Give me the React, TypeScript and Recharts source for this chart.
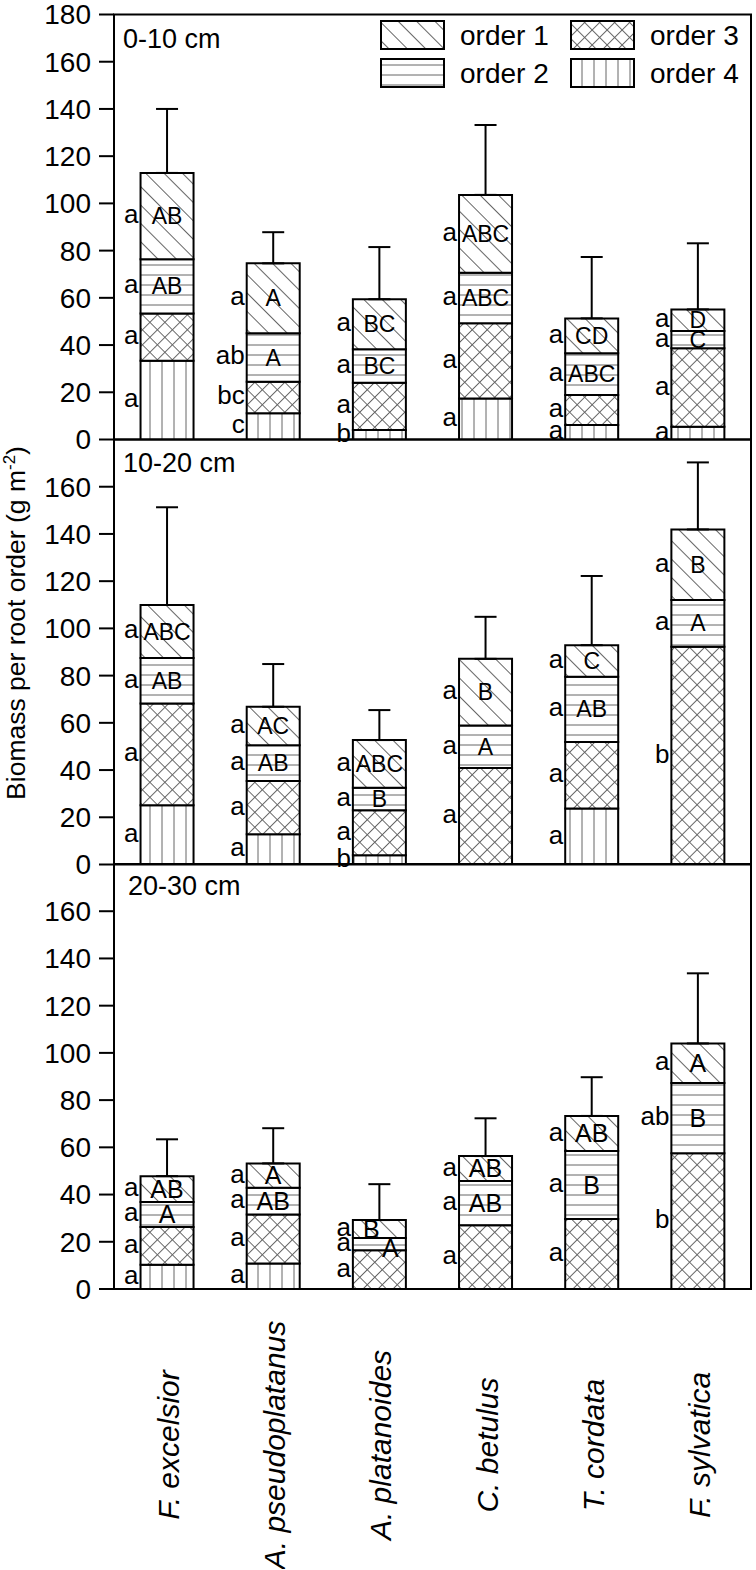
import React from "react"
import { BarChart, Bar, XAxis, YAxis, ErrorBar, LabelList, ReferenceArea } from "recharts"

const FONT = '"Liberation Sans", Arial, sans-serif'

const species = ["F. excelsior", "A. pseudoplatanus", "A. platanoides", "C. betulus", "T. cordata", "F. sylvatica"]

// 0-10 cm
const d1Order1 = [36.6, 29.6, 21.2, 33.0, 14.8, 9.1]
const d1Order2 = [22.9, 20.5, 14.2, 21.4, 17.7, 7.4]
const d1Order3 = [20.0, 13.4, 20.0, 31.8, 12.7, 33.2]
const d1Order4 = [33.4, 11.1, 4.0, 17.4, 6.1, 5.4]
const d1Error = [27.1, 13.2, 22.1, 29.6, 26.0, 28.0]
const d1Low1 = ["a", "a", "a", "a", "a", "a"]
const d1Low2 = ["a", "ab", "a", "a", "a", "a"]
const d1Low3 = ["a", "bc", "a", "a", "a", "a"]
const d1Low4 = ["a", "c", "b", "a", "a", "a"]
const d1Up1 = ["AB", "A", "BC", "ABC", "CD", "D"]
const d1Up2 = ["AB", "A", "BC", "ABC", "ABC", "C"]

// 10-20 cm
const d2Order1 = [22.4, 16.3, 20.2, 28.2, 13.4, 29.9]
const d2Order2 = [19.3, 15.1, 9.5, 18.0, 27.6, 19.8]
const d2Order3 = [43.1, 22.6, 19.1, 40.9, 28.2, 92.2]
const d2Order4 = [25.1, 12.8, 3.9, 0, 23.7, 0]
const d2Error = [41.4, 18.1, 12.7, 17.8, 29.3, 28.4]
const d2Low1 = ["a", "a", "a", "a", "a", "a"]
const d2Low2 = ["a", "a", "a", "a", "a", "a"]
const d2Low3 = ["a", "a", "a", "a", "a", "b"]
const d2Low4 = ["a", "a", "b", "", "a", ""]
const d2Up1 = ["ABC", "AC", "ABC", "B", "C", "B"]
const d2Up2 = ["AB", "AB", "B", "A", "AB", "A"]

// 20-30 cm
const d3Order1 = [10.9, 10.3, 7.6, 10.6, 14.9, 16.8]
const d3Order2 = [10.6, 11.3, 5.2, 18.7, 28.8, 29.7]
const d3Order3 = [16.0, 20.8, 16.4, 27.0, 29.6, 57.5]
const d3Order4 = [10.3, 10.8, 0, 0, 0, 0]
const d3Error = [15.6, 14.9, 15.2, 16.0, 16.4, 29.7]
const d3Low1 = ["a", "a", "a", "a", "a", "a"]
const d3Low2 = ["a", "a", "a", "a", "a", "ab"]
const d3Low3 = ["a", "a", "a", "a", "a", "b"]
const d3Low4 = ["a", "a", "", "", "", ""]
const d3Up1 = ["AB", "A", "B", "AB", "AB", "A"]
const d3Up2 = ["A", "AB", "A", "AB", "B", "B"]

const ticksTop = [0, 20, 40, 60, 80, 100, 120, 140, 160, 180]
const ticksLower = [0, 20, 40, 60, 80, 100, 120, 140, 160]

function buildRows(o1: number[], o2: number[], o3: number[], o4: number[], err: number[], l1: string[], l2: string[], l3: string[], l4: string[], u1: string[], u2: string[]) {
  return species.map((name, i) => ({
    name,
    o1: o1[i], o2: o2[i], o3: o3[i], o4: o4[i],
    err: [0, err[i]],
    lo1: l1[i], lo2: l2[i], lo3: l3[i], lo4: l4[i],
    up1: u1[i], up2: u2[i],
  }))
}

const rows1 = buildRows(d1Order1, d1Order2, d1Order3, d1Order4, d1Error, d1Low1, d1Low2, d1Low3, d1Low4, d1Up1, d1Up2)
const rows2 = buildRows(d2Order1, d2Order2, d2Order3, d2Order4, d2Error, d2Low1, d2Low2, d2Low3, d2Low4, d2Up1, d2Up2)
const rows3 = buildRows(d3Order1, d3Order2, d3Order3, d3Order4, d3Error, d3Low1, d3Low2, d3Low3, d3Low4, d3Up1, d3Up2)

const lowerLabel = (p: any) => {
  if (!p.value) return null
  const vb = p.viewBox || p
  const top = Math.min(vb.y, vb.y + vb.height)
  const mid = top + Math.abs(vb.height) / 2
  return (
    <text x={vb.x - 2} y={mid} dy="0.27em" textAnchor="end" fontSize={26} fontFamily={FONT} fill="#000">
      {p.value}
    </text>
  )
}

// thin segments: push the order-2 letter right and the order-1 letter left so they don't sit on each other
const upperLabel = (size: number, nudge: number) => (p: any) => {
  if (!p.value) return null
  const vb = p.viewBox || p
  const h = Math.abs(vb.height)
  const top = Math.min(vb.y, vb.y + vb.height)
  const mid = top + h / 2
  const cramped = h < 14 || (nudge < 0 && h < 19 && size > 24)
  const dx = cramped ? nudge : 0
  return (
    <text x={vb.x + vb.width / 2 + dx} y={mid + (cramped && nudge > 0 ? 4 : 0)} dy="0.35em" textAnchor="middle" fontSize={size} fontFamily={FONT} fill="#000">
      {p.value}
    </text>
  )
}

const speciesTick = (p: any) => {
  const cy = p.y + 156
  return (
    <text x={p.x} y={cy} dy={12} transform={`rotate(-90 ${p.x} ${cy})`} textAnchor="middle" fontSize={30} fontStyle="italic" fontFamily={FONT} fill="#000">
      {p.payload.value}
    </text>
  )
}

const line = { stroke: "#000", strokeWidth: 2 }

function DepthPanel({ rows, ticks, top, height, margin, withSpecies, upperSize }: any) {
  return (
    <div style={{ position: "absolute", left: 0, top }}>
      <BarChart width={756} height={height} data={rows} margin={margin} barCategoryGap="25%">
        <XAxis
          dataKey="name"
          axisLine={line}
          tickLine={false}
          tickSize={0}
          tickMargin={0}
          interval={0}
          height={withSpecies ? 280 : 0}
          tick={withSpecies ? speciesTick : false}
        />
        <YAxis
          domain={[0, 180]}
          allowDataOverflow
          ticks={ticks}
          interval={0}
          width={60}
          tickSize={15}
          tickMargin={8}
          axisLine={line}
          tickLine={line}
          tick={{ fontSize: 28, fill: "#000", fontFamily: FONT }}
        />
        <Bar dataKey="o4" stackId="s" fill="url(#hatch4)" stroke="#000" strokeWidth={2} isAnimationActive={false}>
          <LabelList dataKey="lo4" content={lowerLabel} />
        </Bar>
        <Bar dataKey="o3" stackId="s" fill="url(#hatch3)" stroke="#000" strokeWidth={2} isAnimationActive={false}>
          <LabelList dataKey="lo3" content={lowerLabel} />
        </Bar>
        <Bar dataKey="o2" stackId="s" fill="url(#hatch2)" stroke="#000" strokeWidth={2} isAnimationActive={false}>
          <LabelList dataKey="lo2" content={lowerLabel} />
          <LabelList dataKey="up2" content={upperLabel(upperSize, 11)} />
        </Bar>
        <Bar dataKey="o1" stackId="s" fill="url(#hatch1)" stroke="#000" strokeWidth={2} isAnimationActive={false}>
          <ErrorBar dataKey="err" direction="y" width={11} stroke="#000" strokeWidth={2} isAnimationActive={false} />
          <LabelList dataKey="lo1" content={lowerLabel} />
          <LabelList dataKey="up1" content={upperLabel(upperSize, -8)} />
        </Bar>
        <ReferenceArea
          x1={species[0]}
          x2={species[species.length - 1]}
          y1={0}
          y2={180}
          fill="none"
          fillOpacity={0}
          stroke="#000"
          strokeWidth={2}
          ifOverflow="visible"
        />
      </BarChart>
    </div>
  )
}

const legendItems = [
  { label: "order 1", fill: "url(#hatch1)", x: 381, y: 21 },
  { label: "order 2", fill: "url(#hatch2)", x: 381, y: 59 },
  { label: "order 3", fill: "url(#hatch3)", x: 571, y: 21 },
  { label: "order 4", fill: "url(#hatch4)", x: 571, y: 59 },
]

export default function App() {
  return (
    <div style={{ position: "absolute", left: 0, top: 0, width: 756, height: 1570, background: "#fff", overflow: "hidden" }}>
      <svg width={0} height={0} style={{ position: "absolute" }}>
        <defs>
          <pattern id="hatch1" width={13} height={13} patternUnits="userSpaceOnUse" patternTransform="rotate(-45)">
            <rect width={13} height={13} fill="#fff" />
            <line x1={6.5} y1={0} x2={6.5} y2={13} stroke="#666" strokeWidth={1} />
          </pattern>
          <pattern id="hatch2" width={10} height={10} patternUnits="userSpaceOnUse">
            <rect width={10} height={10} fill="#fff" />
            <line x1={0} y1={5} x2={10} y2={5} stroke="#666" strokeWidth={1} />
          </pattern>
          <pattern id="hatch3" width={10.6} height={10.6} patternUnits="userSpaceOnUse" patternTransform="rotate(45)">
            <rect width={10.6} height={10.6} fill="#fff" />
            <line x1={5.3} y1={0} x2={5.3} y2={10.6} stroke="#666" strokeWidth={1} />
            <line x1={0} y1={5.3} x2={10.6} y2={5.3} stroke="#666" strokeWidth={1} />
          </pattern>
          <pattern id="hatch4" width={12} height={12} patternUnits="userSpaceOnUse">
            <rect width={12} height={12} fill="#fff" />
            <line x1={6} y1={0} x2={6} y2={12} stroke="#666" strokeWidth={1} />
          </pattern>
        </defs>
      </svg>

      <DepthPanel rows={rows1} ticks={ticksTop} top={0} height={470} margin={{ top: 14.5, right: 5, bottom: 30.5, left: 54 }} upperSize={23} />
      <DepthPanel rows={rows2} ticks={ticksLower} top={430} height={470} margin={{ top: 9.5, right: 5, bottom: 35.5, left: 54 }} upperSize={23} />
      <DepthPanel rows={rows3} ticks={ticksLower} top={850} height={719} margin={{ top: 14, right: 5, bottom: 0, left: 54 }} upperSize={25} withSpecies />

      <svg width={756} height={1570} style={{ position: "absolute", left: 0, top: 0, pointerEvents: "none" }} fontFamily={FONT}>
        <text x={123} y={48} fontSize={27} fill="#000">0-10 cm</text>
        <text x={123} y={472} fontSize={27} fill="#000">10-20 cm</text>
        <text x={128} y={895} fontSize={27} fill="#000">20-30 cm</text>
        <text x={25} y={623} transform="rotate(-90 25 623)" textAnchor="middle" fontSize={26.5} fill="#000">
          Biomass per root order (g m<tspan fontSize={17} dy={-10}>-2</tspan><tspan dy={10}>)</tspan>
        </text>
        {legendItems.map((it) => (
          <g key={it.label}>
            <rect x={it.x} y={it.y} width={63} height={28} fill={it.fill} stroke="#000" strokeWidth={2} />
            <text x={it.x + 79} y={it.y + 24} fontSize={28} fill="#000">{it.label}</text>
          </g>
        ))}
      </svg>
    </div>
  )
}
